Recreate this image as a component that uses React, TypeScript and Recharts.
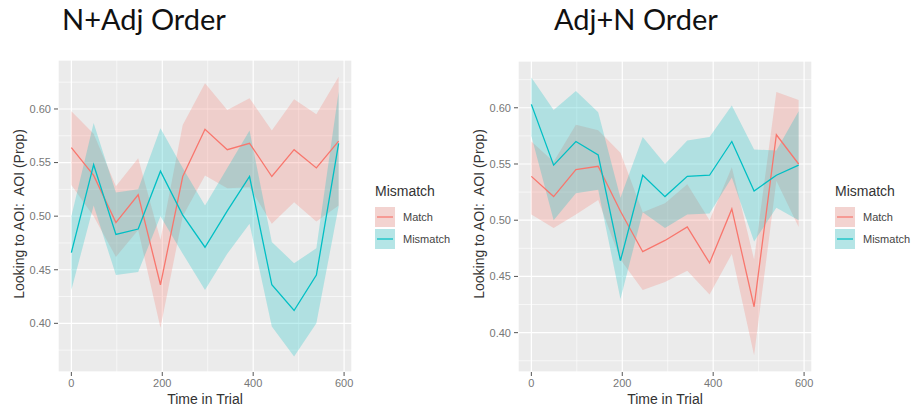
import React from 'react';
import { ComposedChart, Area, Line, XAxis, YAxis, CartesianGrid } from 'recharts';

// time bins (ms) shared by both panels
const TIME = [0, 49, 98, 147, 196, 245, 294, 343, 392, 441, 490, 539, 588];

// N+Adj order
const naMatch = [0.564, 0.538, 0.494, 0.520, 0.436, 0.537, 0.581, 0.562, 0.568, 0.537, 0.562, 0.545, 0.570];
const naMatchLo = [0.529, 0.500, 0.462, 0.487, 0.396, 0.500, 0.538, 0.526, 0.527, 0.493, 0.513, 0.495, 0.510];
const naMatchHi = [0.598, 0.577, 0.528, 0.554, 0.478, 0.585, 0.624, 0.599, 0.610, 0.580, 0.609, 0.595, 0.630];
const naMismatch = [0.466, 0.548, 0.483, 0.488, 0.542, 0.501, 0.471, 0.505, 0.537, 0.436, 0.412, 0.445, 0.568];
const naMismatchLo = [0.431, 0.510, 0.445, 0.448, 0.500, 0.465, 0.431, 0.465, 0.493, 0.397, 0.369, 0.400, 0.509];
const naMismatchHi = [0.500, 0.587, 0.522, 0.525, 0.582, 0.545, 0.510, 0.545, 0.580, 0.476, 0.456, 0.470, 0.616];

// Adj+N order
const anMatch = [0.539, 0.521, 0.545, 0.548, 0.508, 0.472, 0.482, 0.494, 0.462, 0.510, 0.423, 0.576, 0.550];
const anMatchLo = [0.505, 0.493, 0.505, 0.518, 0.465, 0.438, 0.445, 0.455, 0.434, 0.470, 0.380, 0.535, 0.494];
const anMatchHi = [0.570, 0.552, 0.585, 0.580, 0.560, 0.507, 0.515, 0.532, 0.500, 0.547, 0.465, 0.614, 0.607];
const anMismatch = [0.603, 0.549, 0.570, 0.558, 0.464, 0.540, 0.521, 0.539, 0.540, 0.570, 0.526, 0.540, 0.549];
const anMismatchLo = [0.575, 0.500, 0.524, 0.527, 0.430, 0.507, 0.493, 0.505, 0.506, 0.538, 0.481, 0.511, 0.500];
const anMismatchHi = [0.627, 0.598, 0.615, 0.596, 0.520, 0.574, 0.550, 0.571, 0.574, 0.602, 0.563, 0.562, 0.597];

const X_TICKS = [0, 200, 400, 600];
const X_MINOR = [100, 300, 500];
const Y_TICKS = [0.4, 0.45, 0.5, 0.55, 0.6];
const Y_MINOR = [0.375, 0.425, 0.475, 0.525, 0.575, 0.625];

const RED = '#F8766D';
const CYAN = '#00BFC4';
const FONT = '"Liberation Sans", Arial, sans-serif';
const X_DOMAIN: [number, number] = [-29.4, 617.4];

const buildRows = (m: number[], mLo: number[], mHi: number[], mm: number[], mmLo: number[], mmHi: number[]) =>
    TIME.map((t, i) => ({
        t,
        match: m[i],
        matchBand: [mLo[i], mHi[i]],
        mismatch: mm[i],
        mismatchBand: [mmLo[i], mmHi[i]],
    }));

const naRows = buildRows(naMatch, naMatchLo, naMatchHi, naMismatch, naMismatchLo, naMismatchHi);
const anRows = buildRows(anMatch, anMatchLo, anMatchHi, anMismatch, anMismatchLo, anMismatchHi);

const Legend = ({ left }: { left: number }) => (
    <div style={{ position: 'absolute', left, top: 182, fontFamily: FONT }}>
        <div style={{ fontSize: 14, color: '#333', lineHeight: '18px', marginBottom: 6 }}>Mismatch</div>
        {[['Match', RED], ['Mismatch', CYAN]].map(([name, c]) => (
            <div key={name} style={{ display: 'flex', alignItems: 'center', height: 22 }}>
                <svg width={20} height={20}>
                    <rect x={0} y={0} width={20} height={20} fill="#F2F2F2" />
                    <rect x={0} y={0} width={20} height={20} fill={c} fillOpacity={0.25} />
                    <line x1={2} x2={18} y1={10} y2={10} stroke={c} strokeWidth={1.2} />
                </svg>
                <span style={{ fontSize: 11, color: '#444', marginLeft: 8 }}>{name}</span>
            </div>
        ))}
    </div>
);

type PanelProps = {
    title: string;
    rows: any[];
    left: number;
    top: number;
    yDomain: [number, number];
    titleLeft: number;
};

const Panel = ({ title, rows, left, top, yDomain, titleLeft }: PanelProps) => (
    <>
        <div style={{ position: 'absolute', left: titleLeft, top: -1, fontFamily: 'Lato, "Open Sans", sans-serif', fontSize: 29, lineHeight: '40px', color: '#111' }}>
            {title}
        </div>
        <div style={{
            position: 'absolute', left: left + 19, top: 214, transform: 'translate(-50%, -50%) rotate(-90deg)',
            whiteSpace: 'pre', fontFamily: FONT, fontSize: 14, color: '#333',
        }}>
            {'Looking to AOI:  AOI (Prop)'}
        </div>
        <div style={{ position: 'absolute', left: left + 205, top: 391, transform: 'translateX(-50%)', fontFamily: FONT, fontSize: 14, color: '#333' }}>
            Time in Trial
        </div>
        <div style={{ position: 'absolute', left, top: 0 }}>
            <ComposedChart width={360} height={415} data={rows} margin={{ top, right: 8, bottom: 0, left: 0 }}>
                <CartesianGrid fill="#EBEBEB" stroke="#FFFFFF" strokeWidth={0.6} xAxisId="minor" yAxisId="minor" />
                <CartesianGrid stroke="#FFFFFF" strokeWidth={1.2} />
                <XAxis xAxisId="minor" dataKey="t" type="number" domain={X_DOMAIN} ticks={X_MINOR} allowDataOverflow hide />
                <YAxis yAxisId="minor" type="number" domain={yDomain} ticks={Y_MINOR} allowDataOverflow hide />
                <XAxis
                    dataKey="t"
                    type="number"
                    domain={X_DOMAIN}
                    ticks={X_TICKS}
                    allowDataOverflow
                    height={43}
                    axisLine={false}
                    tickLine={{ stroke: '#555' }}
                    tickSize={4}
                    tickMargin={3}
                    tick={{ fontSize: 11, fill: '#777', fontFamily: FONT }}
                />
                <YAxis
                    type="number"
                    domain={yDomain}
                    ticks={Y_TICKS}
                    allowDataOverflow
                    width={58}
                    axisLine={false}
                    tickLine={{ stroke: '#555' }}
                    tickSize={4}
                    tickMargin={3}
                    tickFormatter={(v: number) => v.toFixed(2)}
                    tick={{ fontSize: 11, fill: '#777', fontFamily: FONT }}
                />
                <Line dataKey="match" type="linear" stroke={RED} strokeWidth={1.3} dot={false} isAnimationActive={false} />
                <Line dataKey="mismatch" type="linear" stroke={CYAN} strokeWidth={1.3} dot={false} isAnimationActive={false} />
                <Area dataKey="matchBand" type="linear" stroke="none" fill={RED} fillOpacity={0.25} isAnimationActive={false} />
                <Area dataKey="mismatchBand" type="linear" stroke="none" fill={CYAN} fillOpacity={0.25} isAnimationActive={false} />
            </ComposedChart>
        </div>
    </>
);

const App = () => (
    <div style={{ position: 'absolute', left: 0, top: 0, width: 917, height: 415, background: '#fff', overflow: 'hidden' }}>
        <Panel title="N+Adj Order" rows={naRows} left={0} top={60} yDomain={[0.3546, 0.6457]} titleLeft={62} />
        <Legend left={375} />
        <Panel title="Adj+N Order" rows={anRows} left={460} top={61} yDomain={[0.365, 0.6416]} titleLeft={554} />
        <Legend left={835} />
    </div>
);

export default App;
